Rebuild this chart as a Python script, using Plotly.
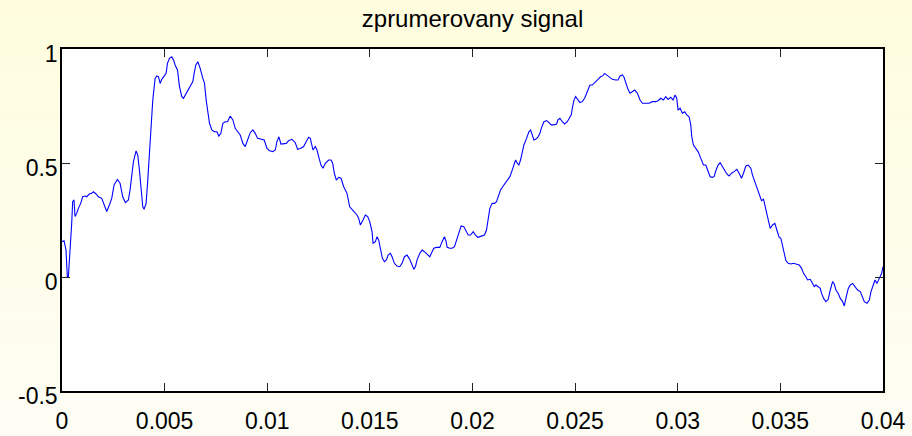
import plotly.graph_objects as go

# time axis (s) and averaged signal amplitude
t_s = [
    0.0, 0.0001, 0.000195, 0.00026, 0.00031, 0.000358, 0.000472, 0.00052, 0.000585, 0.000634,
    0.000716, 0.000797, 0.000911, 0.001008, 0.001122, 0.001203, 0.001333, 0.001447, 0.001528, 0.001659,
    0.001772, 0.001935, 0.002049, 0.002179, 0.002309, 0.002423, 0.002537, 0.002699, 0.002829, 0.002959,
    0.003089, 0.003236, 0.003317, 0.003398, 0.00348, 0.00361, 0.003691, 0.003772, 0.003854, 0.003935,
    0.0040, 0.004098, 0.004179, 0.00426, 0.004341, 0.004423, 0.004537, 0.004618, 0.004699, 0.00478,
    0.004862, 0.004976, 0.005073, 0.005138, 0.005236, 0.00535, 0.005431, 0.005512, 0.005626, 0.005724,
    0.005837, 0.005919, 0.006049, 0.006163, 0.006277, 0.006374, 0.006439, 0.00652, 0.006618, 0.006732,
    0.006862, 0.006943, 0.007024, 0.007106, 0.007187, 0.0073, 0.007415, 0.007545, 0.007642, 0.00774,
    0.007837, 0.007951, 0.008065, 0.008195, 0.008325, 0.008439, 0.008553, 0.008683, 0.008813, 0.008927,
    0.009041, 0.009171, 0.009301, 0.009415, 0.009528, 0.009659, 0.009772, 0.009854, 0.009984, 0.010114,
    0.010277, 0.01039, 0.010472, 0.010569, 0.010667, 0.010797, 0.010927, 0.011041, 0.011204, 0.011366,
    0.01148, 0.01161, 0.011772, 0.011902, 0.012016, 0.012098,
    0.012228, 0.012341, 0.012423, 0.012504, 0.012618, 0.012715, 0.012829, 0.012992, 0.013106, 0.013187,
    0.013268, 0.013366, 0.01348, 0.013594, 0.013724, 0.013886, 0.013967, 0.014016, 0.01413, 0.014244,
    0.014374, 0.014455, 0.014537, 0.014667, 0.01478, 0.014894, 0.014992, 0.015106, 0.015155, 0.015268,
    0.01535, 0.015431, 0.015512, 0.01561, 0.015707, 0.015805, 0.015886, 0.016, 0.016081, 0.016195,
    0.016325, 0.016455, 0.016569, 0.016683, 0.016813, 0.016943, 0.017057, 0.017138, 0.017219, 0.017301,
    0.017431, 0.017545, 0.017658, 0.017789, 0.017919, 0.018033, 0.018114, 0.018244, 0.018406, 0.01852,
    0.018634, 0.018715, 0.018764, 0.018894, 0.019008, 0.019122, 0.019219, 0.019333, 0.019447, 0.019577,
    0.019675, 0.019788, 0.019902, 0.020033, 0.020146, 0.02026, 0.020357, 0.020471, 0.020585, 0.020682,
    0.020748, 0.020845, 0.020959, 0.021073, 0.02117, 0.021268, 0.021366, 0.021496, 0.02161, 0.021723,
    0.021821, 0.021935, 0.022016, 0.022098, 0.022179, 0.02226, 0.022341, 0.022423, 0.022504, 0.022634,
    0.022748, 0.02283, 0.022911, 0.022992, 0.023073, 0.023187, 0.023285, 0.02335, 0.02348, 0.02361,
    0.023724, 0.023838, 0.023967, 0.024098, 0.024163, 0.02426, 0.024374, 0.024488, 0.024618, 0.024716,
    0.024813, 0.024862, 0.024943, 0.025024, 0.025138, 0.025236, 0.02535, 0.025463, 0.025561, 0.025626,
    0.025723, 0.025837, 0.025918, 0.026048, 0.026162, 0.026244,
    0.026342, 0.026439, 0.026537, 0.02665, 0.026813, 0.026976, 0.02709, 0.027187, 0.027301, 0.027382,
    0.027463, 0.027577, 0.027675, 0.027789, 0.027902, 0.028033, 0.028163, 0.028277, 0.028439, 0.028602,
    0.028764, 0.028927, 0.029041, 0.029171, 0.029301, 0.029415, 0.029528, 0.029659, 0.029772, 0.02987,
    0.029951, 0.030016, 0.030114, 0.030228, 0.030341, 0.030439, 0.030553, 0.030634, 0.030683, 0.030764,
    0.030878, 0.030992, 0.031089, 0.031155, 0.031252, 0.031366, 0.03148, 0.031577, 0.031691, 0.031772,
    0.031854, 0.031967, 0.032065, 0.032179, 0.032293, 0.03239, 0.032504, 0.032618, 0.032748, 0.032878,
    0.032991, 0.033106, 0.033203, 0.033317, 0.033431, 0.033561, 0.033642, 0.033756, 0.033886, 0.034,
    0.034081, 0.034179, 0.03426, 0.034341, 0.034406, 0.034504, 0.034618, 0.034732, 0.034829, 0.034943,
    0.035024, 0.035106, 0.035187, 0.035268, 0.035382, 0.035512, 0.035642, 0.035756, 0.035918, 0.036033,
    0.03613, 0.036244, 0.036325, 0.036455, 0.036569, 0.03665, 0.036732, 0.036845, 0.036943, 0.037008,
    0.037106, 0.037219, 0.037333, 0.037431, 0.037545, 0.037626, 0.037707, 0.037821, 0.037919, 0.038033,
    0.038114, 0.038211, 0.038309, 0.038406, 0.03852, 0.038634, 0.038764, 0.038894, 0.039008, 0.039089,
    0.03922, 0.039333, 0.039415, 0.039545, 0.03961, 0.039707, 0.039789, 0.03987, 0.039935, 0.04,
]

signal = [
    0.155, 0.159, 0.118, 0.0, 0.0, 0.06, 0.235, 0.330, 0.338, 0.265,
    0.279, 0.301, 0.323, 0.352, 0.355, 0.352, 0.364, 0.367, 0.374, 0.364,
    0.352, 0.345, 0.320, 0.287, 0.316, 0.345, 0.404, 0.428, 0.411, 0.352,
    0.326, 0.338, 0.382, 0.455, 0.506, 0.553, 0.535, 0.469, 0.382, 0.308,
    0.297, 0.323, 0.425, 0.557, 0.659, 0.776, 0.871, 0.882, 0.879, 0.849,
    0.867, 0.879, 0.893, 0.937, 0.959, 0.966, 0.952, 0.930, 0.908, 0.835,
    0.791, 0.784, 0.806, 0.823, 0.842, 0.857, 0.893, 0.930, 0.944, 0.915,
    0.871, 0.849, 0.776, 0.711, 0.674, 0.645, 0.637, 0.637, 0.618, 0.630,
    0.674, 0.681, 0.681, 0.706, 0.689, 0.652, 0.640, 0.623, 0.586, 0.572,
    0.601, 0.633, 0.645, 0.630, 0.608, 0.604, 0.604, 0.601, 0.564, 0.554,
    0.550, 0.557, 0.594, 0.615, 0.583, 0.583, 0.586, 0.598, 0.604, 0.589,
    0.560, 0.564, 0.572, 0.594, 0.613, 0.608,
    0.557, 0.572, 0.557, 0.528, 0.491, 0.477, 0.499, 0.513, 0.513, 0.499,
    0.455, 0.425, 0.437, 0.433, 0.396, 0.367, 0.338, 0.308, 0.297, 0.287,
    0.272, 0.257, 0.228, 0.250, 0.272, 0.265, 0.243, 0.199, 0.148, 0.155,
    0.177, 0.162, 0.118, 0.082, 0.067, 0.075, 0.096, 0.104, 0.089, 0.060,
    0.048, 0.045, 0.060, 0.089, 0.096, 0.077, 0.053, 0.034, 0.045, 0.075,
    0.104, 0.118, 0.111, 0.101, 0.089, 0.111, 0.126, 0.130, 0.130, 0.155,
    0.177, 0.155, 0.130, 0.126, 0.126, 0.133, 0.162, 0.199, 0.224, 0.221,
    0.206, 0.184, 0.184, 0.199, 0.184, 0.174, 0.177, 0.181, 0.184, 0.206,
    0.250, 0.301, 0.323, 0.323, 0.330, 0.360, 0.382, 0.399, 0.414, 0.425,
    0.440, 0.469, 0.491, 0.513, 0.499, 0.491, 0.513, 0.542, 0.579, 0.608,
    0.637, 0.645, 0.623, 0.601, 0.604, 0.613, 0.630, 0.652, 0.681, 0.686,
    0.677, 0.667, 0.667, 0.671, 0.689, 0.696, 0.681, 0.671, 0.681, 0.696,
    0.711, 0.740, 0.776, 0.791, 0.779, 0.765, 0.769, 0.784, 0.806, 0.820,
    0.842, 0.842, 0.849, 0.857, 0.871, 0.879,
    0.882, 0.893, 0.886, 0.879, 0.867, 0.864, 0.864, 0.882, 0.886, 0.876,
    0.849, 0.823, 0.806, 0.813, 0.820, 0.806, 0.776, 0.762, 0.762, 0.762,
    0.769, 0.769, 0.773, 0.784, 0.776, 0.791, 0.779, 0.788, 0.776, 0.798,
    0.784, 0.732, 0.740, 0.718, 0.725, 0.711, 0.703, 0.667, 0.615, 0.579,
    0.564, 0.550, 0.528, 0.513, 0.491, 0.491, 0.462, 0.440, 0.437, 0.440,
    0.466, 0.491, 0.501, 0.484, 0.466, 0.452, 0.443, 0.455, 0.462, 0.472,
    0.455, 0.433, 0.455, 0.487, 0.491, 0.477, 0.447, 0.418, 0.389, 0.352,
    0.335, 0.341, 0.308, 0.272, 0.243, 0.213, 0.228, 0.235, 0.206, 0.174,
    0.170, 0.133, 0.096, 0.072, 0.060, 0.057, 0.060, 0.056, 0.053, 0.038,
    0.016, 0.001, -0.013, -0.010, -0.028, -0.042, -0.035, -0.045, -0.050, -0.072,
    -0.094, -0.108, -0.098, -0.057, -0.020, -0.031, -0.057, -0.072, -0.094, -0.108,
    -0.127, -0.086, -0.050, -0.035, -0.028, -0.042, -0.057, -0.064, -0.086, -0.108,
    -0.115, -0.101, -0.064, -0.028, -0.013, -0.028, -0.013, 0.001, 0.016, 0.045,
]

x_ticks = [0, 0.005, 0.01, 0.015, 0.02, 0.025, 0.03, 0.035, 0.04]
x_tick_text = ["0", "0.005", "0.01", "0.015", "0.02", "0.025", "0.03", "0.035", "0.04"]
y_ticks = [-0.5, 0, 0.5, 1]
y_tick_text = ["-0.5", "0", "0.5", "1"]

W, H = 912, 436
ML, MR, MT, MB = 62, 29, 49, 45
plot_w = W - ML - MR
plot_h = H - MT - MB

fig = go.Figure()
fig.add_trace(go.Scatter(
    x=t_s, y=signal, mode="lines",
    line=dict(color="#0000FF", width=1.1),
    hoverinfo="skip", showlegend=False,
))

# pale yellow page background fading towards the bottom
shapes = []
n_bands = 24
top_rgb = (255, 253, 222)
bot_rgb = (253, 253, 244)
y_top = 1 + MT / plot_h
y_bot = -MB / plot_h
for i in range(n_bands):
    f = i / (n_bands - 1)
    r = round(top_rgb[0] + (bot_rgb[0] - top_rgb[0]) * f)
    g = round(top_rgb[1] + (bot_rgb[1] - top_rgb[1]) * f)
    b = round(top_rgb[2] + (bot_rgb[2] - top_rgb[2]) * f)
    y0 = y_top - (y_top - y_bot) * i / n_bands
    y1 = y_top - (y_top - y_bot) * (i + 1) / n_bands
    shapes.append(dict(type="rect", xref="paper", yref="paper",
                       x0=-ML / plot_w - 0.01, x1=1 + MR / plot_w + 0.01,
                       y0=y1 - 0.005, y1=y0 + 0.005,
                       fillcolor=f"rgb({r},{g},{b})", line=dict(width=0), layer="below"))
# white axes area on top of the page bands
shapes.append(dict(type="rect", xref="paper", yref="paper", x0=0, x1=1, y0=0, y1=1,
                   fillcolor="white", line=dict(width=0), layer="below"))

font = dict(family="Liberation Sans, Arial, sans-serif", size=23, color="black")
axis_common = dict(
    showgrid=False, zeroline=False, automargin=False,
    showline=True, linecolor="black", linewidth=1.5, mirror="ticks",
    ticks="inside", ticklen=8, tickwidth=1.2, tickcolor="#222222",
    tickfont=font,
)

fig.update_layout(
    width=W, height=H,
    margin=dict(l=ML, r=MR, t=MT, b=MB, autoexpand=False),
    paper_bgcolor="#FFFDE4", plot_bgcolor="white",
    shapes=shapes,
    title=dict(text="zprumerovany signal", font=dict(family="Liberation Sans, Arial, sans-serif",
               size=24, color="black"),
               x=0.5, xref="paper", xanchor="center",
               y=1 - 19 / H, yref="container", yanchor="middle"),
    xaxis=dict(range=[0, 0.04], tickvals=x_ticks, ticktext=x_tick_text,
               ticklabelstandoff=9, **axis_common),
    yaxis=dict(range=[-0.5, 1], tickvals=y_ticks, ticktext=y_tick_text,
               ticklabelstandoff=-2, ticklabelshift=5, **axis_common),
)

fig.write_html("out.html")
